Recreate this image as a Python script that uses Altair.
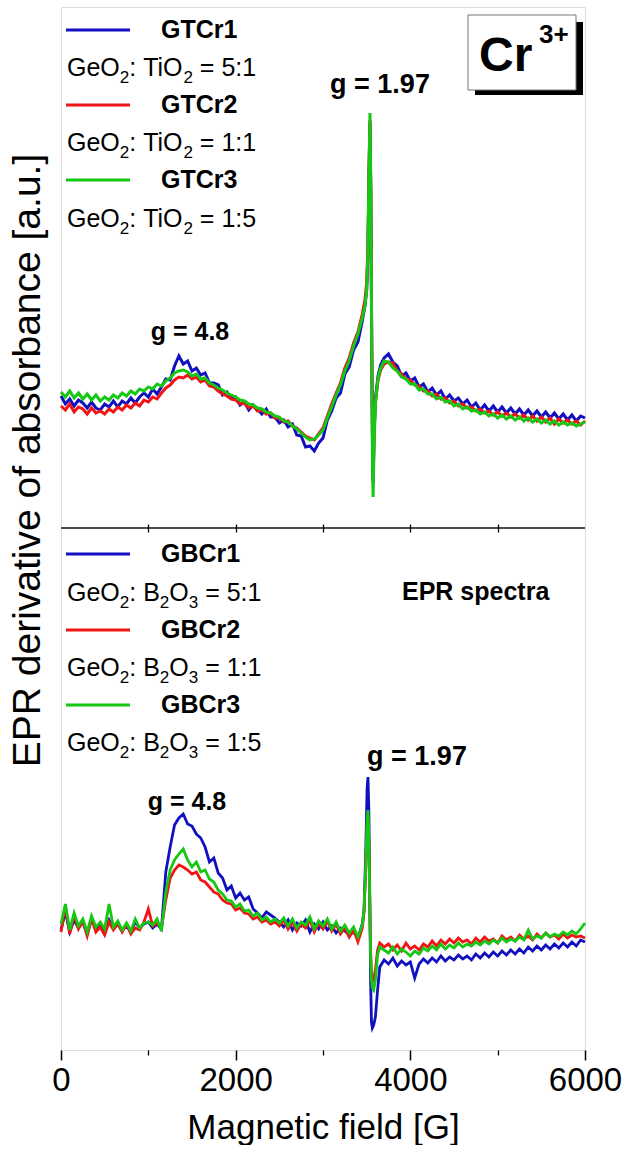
import altair as alt
import pandas as pd

FONT = "Liberation Sans"
BLUE, RED, GREEN = "#1010c0", "#f01414", "#14c814"

# ---------------- upper panel: GeO2-TiO2 glasses ----------------
top_x_left = list(range(0, 3500, 50))
top_x_mid = [3480, 3500, 3515, 3525, 3538, 3548, 3558, 3568, 3574, 3585, 3600, 3630, 3660, 3700]
top_x_right = list(range(3750, 6050, 50))
top_x = top_x_left + top_x_mid + top_x_right

gtcr1 = [132, 124, 129, 122, 128, 125, 120, 126, 120, 118,
         124, 121, 127, 121, 127, 124, 130, 125, 131, 135,
         131, 139, 134, 141, 149, 148, 162, 172, 164, 167,
         157, 160, 153, 155, 145, 145, 143, 133, 136, 130,
         131, 123, 126, 118, 123, 119, 114, 119, 111, 111,
         105, 108, 101, 104, 93, 92, 81, 82, 77, 85,
         90, 108, 117, 130, 135, 154, 161, 178, 186, 207,
         222, 238, 275, 345, 405, 330, 180, 70, 45, 95, 130, 152, 163, 170,
         174, 166, 162, 152, 155, 147, 150, 141, 144, 136,
         140, 133, 137, 129, 133, 127, 130, 124, 128, 121,
         125, 118, 123, 117, 122, 116, 121, 115, 120, 114,
         119, 113, 118, 112, 117, 111, 116, 110, 115, 109,
         114, 108, 113, 107, 112, 110]
gtcr2 = [122, 118, 124, 116, 121, 119, 114, 120, 115, 117,
         114, 119, 116, 121, 118, 123, 120, 125, 122, 128,
         126, 131, 129, 135, 140, 143, 148, 151, 150, 153,
         149, 151, 146, 148, 142, 141, 137, 134, 132, 129,
         128, 124, 125, 120, 122, 117, 118, 114, 115, 110,
         110, 106, 107, 102, 100, 96, 92, 90, 88, 94,
         100, 112, 124, 135, 145, 160, 170, 185, 196, 214,
         228, 245, 285, 350, 408, 330, 185, 75, 50, 95, 125, 148, 158, 164,
         166, 165, 157, 154, 149, 148, 143, 142, 137, 137,
         132, 134, 129, 130, 125, 127, 122, 124, 120, 121,
         117, 119, 115, 117, 113, 116, 112, 115, 111, 114,
         110, 113, 108, 112, 107, 111, 106, 110, 104, 109,
         105, 108, 104, 107, 103, 107]
gtcr3 = [136, 131, 137, 130, 135, 129, 134, 128, 133, 127,
         131, 128, 133, 130, 135, 132, 137, 134, 139, 137,
         141, 139, 144, 142, 147, 150, 155, 157, 158, 156,
         152, 154, 149, 150, 145, 143, 140, 138, 135, 133,
         131, 128, 127, 124, 123, 120, 119, 116, 115, 112,
         111, 107, 106, 102, 99, 95, 91, 88, 89, 93,
         98, 110, 121, 133, 143, 157, 167, 182, 194, 210,
         222, 238, 278, 350, 415, 335, 175, 60, 31, 85, 125, 150, 160, 167,
         166, 160, 157, 151, 149, 144, 144, 138, 139, 134,
         134, 129, 131, 126, 127, 122, 124, 119, 121, 117,
         118, 114, 116, 112, 114, 110, 113, 109, 112, 108,
         111, 107, 110, 106, 109, 105, 108, 104, 107, 103,
         106, 103, 105, 102, 104, 106]

# ---------------- lower panel: GeO2-B2O3 glasses ----------------
bot_x_left = list(range(0, 3500, 50))
bot_x_mid = [3470, 3490, 3505, 3515, 3525, 3535, 3545, 3555, 3565, 3580, 3600, 3625, 3650]
bot_x_right = list(range(3700, 6050, 50))
bot_x = bot_x_left + bot_x_mid + bot_x_right

gbcr1 = [120, 138, 118, 130, 122, 128, 116, 132, 120, 126,
         118, 130, 122, 127, 120, 124, 118, 128, 122, 126,
         128, 122, 126, 121, 178, 203, 225, 232, 236, 226,
         224, 216, 212, 203, 188, 192, 177, 172, 160, 164,
         152, 157, 150, 153, 141, 137, 132, 138, 135, 132,
         128, 123, 130, 120, 127, 124, 130, 118, 126, 121,
         128, 120, 124, 117, 122, 119, 115, 118, 112, 126,
         140, 200, 262, 273, 240, 160, 70, 28, 22, 25, 33, 60, 83,
         90, 86, 92, 84, 89, 85, 88, 72, 86, 91,
         87, 92, 88, 94, 89, 93, 90, 95, 91, 94,
         90, 96, 92, 97, 93, 98, 94, 99, 95, 100,
         96, 101, 97, 103, 99, 104, 100, 105, 101, 106,
         102, 107, 103, 108, 104, 110, 108]
gbcr2 = [118, 144, 116, 135, 121, 129, 114, 131, 118, 123,
         115, 128, 120, 126, 118, 126, 116, 122, 120, 128,
         141, 124, 127, 122, 150, 172, 180, 185, 183, 180,
         176, 178, 170, 168, 163, 158, 156, 150, 147, 146,
         140, 142, 137, 136, 131, 133, 128, 130, 126, 128,
         124, 130, 121, 128, 119, 126, 122, 130, 118, 127,
         121, 129, 119, 126, 116, 122, 113, 120, 108, 122,
         138, 182, 226, 235, 210, 150, 100, 78, 72, 70, 80, 100, 107,
         103, 106, 100, 105, 99, 107, 101, 104, 100, 106,
         103, 109, 104, 110, 106, 111, 107, 112, 108, 110,
         106, 112, 108, 113, 109, 111, 107, 114, 110, 113,
         109, 115, 111, 114, 110, 116, 112, 117, 113, 115,
         111, 116, 112, 115, 113, 114, 112]
gbcr3 = [126, 146, 120, 137, 124, 131, 118, 134, 123, 128,
         121, 146, 123, 129, 120, 127, 119, 131, 122, 127,
         128, 125, 131, 119, 158, 180, 190, 196, 201, 190,
         183, 188, 178, 180, 171, 168, 160, 156, 150, 149,
         143, 146, 139, 140, 134, 137, 130, 133, 128, 131,
         127, 132, 124, 131, 122, 128, 125, 133, 121, 129,
         124, 131, 121, 128, 119, 125, 117, 123, 113, 125,
         140, 185, 230, 240, 215, 150, 95, 70, 62, 60, 70, 95, 103,
         100, 97, 103, 96, 101, 98, 94, 99, 96, 102,
         99, 104, 100, 106, 101, 105, 102, 107, 103, 106,
         104, 108, 105, 109, 106, 110, 107, 112, 108, 111,
         109, 113, 110, 120, 111, 114, 112, 117, 113, 116,
         114, 118, 115, 119, 116, 121, 127]

top_names = ["GTCr1", "GTCr2", "GTCr3"]
bot_names = ["GBCr1", "GBCr2", "GBCr3"]
ratios = ["5:1", "1:1", "1:5"]
# formula pieces: plain text, ("sub",) subscripts, " " = one space advance
top_formula = ["GeO", ("2",), ":", " ", "TiO", ("2",), " ", "="]
bot_formula = ["GeO", ("2",), ":", " ", "B", ("2",), "O", ("3",), " ", "="]
major_ticks = [0, 2000, 4000, 6000]
minor_ticks = [1000, 3000, 5000]
inner_ticks = [1000, 2000, 3000, 4000, 5000]

W, H = 524, 1043          # whole plotting area (two stacked panels)
H_BOT = 522               # lower panel height in a.u. units
SPLIT_PX = 521            # pixel row of the panel divider
XS = alt.Scale(domain=[0, 6000], nice=False, zero=False)
YS = alt.Scale(domain=[0, H], nice=False, zero=False)

# Arial / Liberation Sans advance widths (em)
EM = {"G": .778, "e": .556, "O": .778, ":": .278, " ": .278, "T": .611, "i": .222,
      "B": .667, "=": .584, "1": .556, "2": .556, "3": .556, "5": .556}


def frame(xs, ys):
    assert len(xs) == len(ys), (len(xs), len(ys))
    return pd.DataFrame({"field": xs, "signal": ys})


ONE = pd.DataFrame({"k": [0]})

yaxis = alt.Axis(title="EPR derivative of absorbance [a.u.]", labels=False, ticks=False,
                 domain=False, grid=False, titleFont=FONT, titleFontSize=39,
                 titleFontWeight="normal", titleColor="black", titlePadding=14, titleY=453)


def lines(xs, ys, color, shift, width):
    return alt.Chart(frame(xs, ys)).transform_calculate(
        pos=f"datum.signal + {shift}"
    ).mark_line(color=color, strokeWidth=width).encode(
        x=alt.X("field:Q", scale=XS, axis=None),
        y=alt.Y("pos:Q", scale=YS, axis=yaxis))


def label(text, x, y, size, bold=False, align="left", baseline="middle"):
    return alt.Chart(ONE).mark_text(
        text=text, align=align, baseline=baseline, fontSize=size,
        fontWeight="bold" if bold else "normal", font=FONT, color="black"
    ).encode(x=alt.value(x), y=alt.value(y))


def formula(pieces, x0, yc, size=25, sub=17):
    out, x = [], x0
    base = yc + 9
    for p in pieces:
        if isinstance(p, tuple):
            out.append(label(p[0], x, base + 7, sub, baseline="alphabetic"))
            x += sum(EM[c] for c in p[0]) * sub
        elif p.strip() == "":
            x += EM[" "] * size
        else:
            out.append(label(p, x, base, size, baseline="alphabetic"))
            x += sum(EM[c] for c in p) * size
    return out, x


def seg(x1, x2, y, color, width=3):
    return alt.Chart(ONE).mark_rule(color=color, strokeWidth=width).encode(
        x=alt.value(x1), x2=alt.value(x2), y=alt.value(y))


def legend(names, pieces, rows):
    out = []
    for i, (n, r, c) in enumerate(zip(names, ratios, [BLUE, RED, GREEN])):
        out.append(seg(5, 69, rows[2 * i], c))
        out.append(label(n, 100, rows[2 * i], 25, bold=True))
        parts, xe = formula(pieces, 6, rows[2 * i + 1])
        out += parts
        out.append(label(r, xe + EM[" "] * 25, rows[2 * i + 1] + 9, 25, baseline="alphabetic"))
    return out


def axis_layer(vals, axis):
    return alt.Chart(pd.DataFrame({"field": vals})).mark_point(opacity=0).encode(
        x=alt.X("field:Q", scale=XS, axis=axis))


main_axis = alt.Axis(orient="bottom", values=major_ticks, format="d", labelFont=FONT,
                     labelFontSize=33, labelColor="black", labelPadding=4, labelFlush=False,
                     labelOverlap=False, tickSize=10, tickWidth=1.5, tickColor="black",
                     domain=False, grid=False, title="Magnetic field [G]", titleFont=FONT,
                     titleFontSize=35, titleFontWeight="normal", titleColor="black",
                     titlePadding=13)
minor_axis = alt.Axis(orient="bottom", values=minor_ticks, labels=False, tickSize=5,
                      tickWidth=1.3, tickColor="black", domain=False, grid=False, title=None)
divider_down = alt.Axis(orient="bottom", offset=-(H - SPLIT_PX), values=inner_ticks,
                        labels=False, tickSize=4, tickWidth=1.3, tickColor="black",
                        domain=False, grid=False, title=None)
divider_up = alt.Axis(orient="top", offset=-SPLIT_PX, values=inner_ticks, labels=False,
                      tickSize=4, tickWidth=1.3, tickColor="black", domain=False,
                      grid=False, title=None)

shadow = alt.Chart(ONE).mark_rect(color="black").encode(
    x=alt.value(414), x2=alt.value(522), y=alt.value(15), y2=alt.value(88))
box = alt.Chart(ONE).mark_rect(fill="white", stroke="#777", strokeWidth=1).encode(
    x=alt.value(407), x2=alt.value(515), y=alt.value(8), y2=alt.value(83))

B = SPLIT_PX  # pixel offset of the lower panel
chart = alt.layer(
    axis_layer(major_ticks, main_axis),
    axis_layer(minor_ticks, minor_axis),
    axis_layer(inner_ticks, divider_down),
    axis_layer(inner_ticks, divider_up),
    # upper panel
    lines(top_x, gtcr1, BLUE, H_BOT, 3),
    lines(top_x, gtcr2, RED, H_BOT, 3),
    lines(top_x, gtcr3, GREEN, H_BOT, 3),
    # lower panel
    lines(bot_x, gbcr1, BLUE, 0, 2.8),
    lines(bot_x, gbcr2, RED, 0, 2.8),
    lines(bot_x, gbcr3, GREEN, 0, 2.8),
    seg(0, W, SPLIT_PX, "#111", 1.6),
    *legend(top_names, top_formula, [23, 60, 98, 135, 173, 211]),
    label("g = 4.8", 129, 325, 25, bold=True, align="center"),
    label("g = 1.97", 319, 78, 27, bold=True, align="center"),
    shadow, box,
    label("Cr", 418, 50, 48, bold=True),
    label("3+", 478, 28, 26, bold=True),
    *legend(bot_names, bot_formula, [B + 26, B + 64, B + 102, B + 139, B + 177, B + 214]),
    label("EPR spectra", 341, B + 64, 25, bold=True),
    label("g = 4.8", 126, B + 274, 25, bold=True, align="center"),
    label("g = 1.97", 356, B + 229, 27, bold=True, align="center"),
).resolve_axis(x="independent").properties(
    width=W, height=H,
    padding={"left": 8, "top": 7, "right": 0, "bottom": 0},
).configure_view(stroke="#111", strokeWidth=1.6).configure(background="white")

chart.save("out.html", embed_options={"renderer": "svg", "actions": False})
